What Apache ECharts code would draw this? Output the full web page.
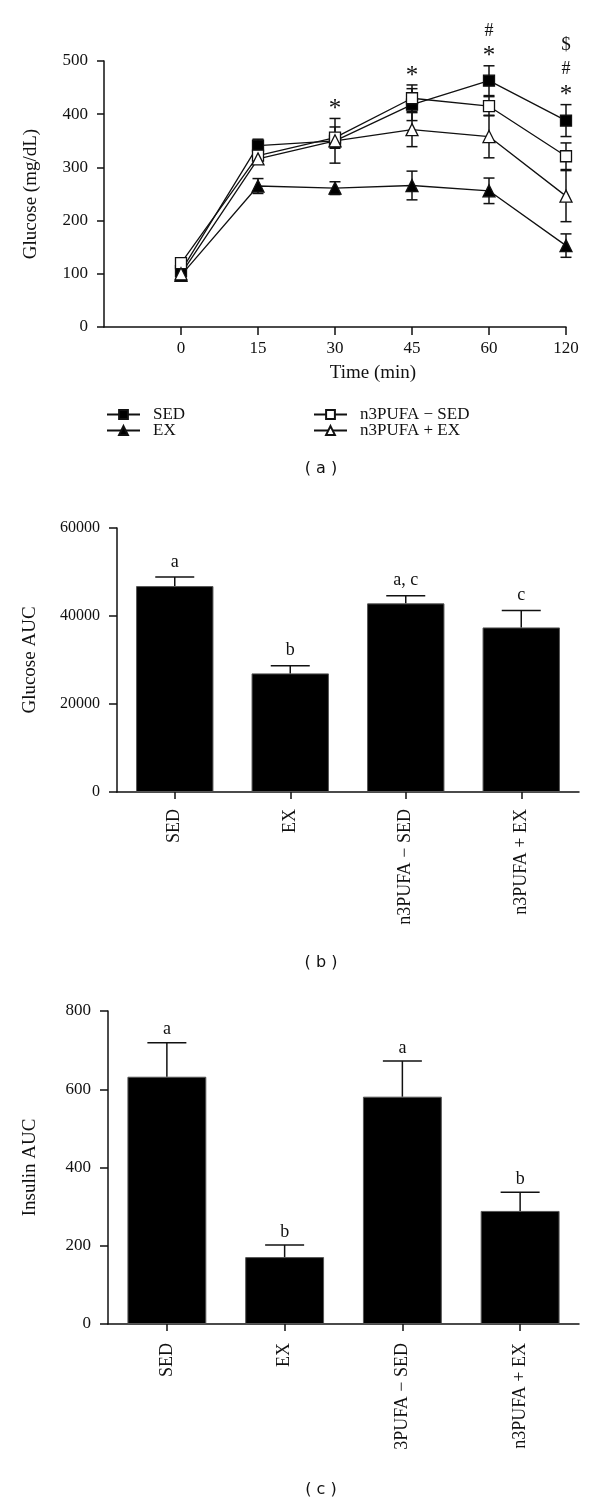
<!DOCTYPE html>
<html><head><meta charset="utf-8">
<script src="https://cdn.jsdelivr.net/npm/echarts@6/dist/echarts.min.js"></script>
<style>html,body{margin:0;padding:0;background:#fff}#c{width:600px;height:1506px}</style>
</head><body><div id="c"></div>
<script>
// ---------- Data ----------
const timeLabels = ['0', '15', '30', '45', '60', '120'];
const sedGlucose = [105, 341, 350, 418, 463, 388];
const sedGlucoseErr = [8, 12, 42, 30, 28, 30];
const exGlucose = [97, 265, 261, 266, 256, 153];
const exGlucoseErr = [6, 14, 12, 27, 24, 22];
const n3SedGlucose = [120, 322, 356, 430, 415, 321];
const n3SedGlucoseErr = [6, 10, 20, 25, 18, 25];
const n3ExGlucose = [100, 316, 350, 371, 358, 246];
const n3ExGlucoseErr = [6, 10, 12, 32, 40, 48];
const timeAnnotations = ['', '', '*', '*', '*#', '*#$']; // stacked bottom to top

const groupsB = ['SED', 'EX', 'n3PUFA \u2212 SED', 'n3PUFA + EX'];
const glucoseAUC = [46800, 26960, 42870, 37400];
const glucoseAUCErr = [2060, 1740, 1750, 3870];
const glucoseLetters = ['a', 'b', 'a, c', 'c'];

const groupsC = ['SED', 'EX', '3PUFA \u2212 SED', 'n3PUFA + EX'];
const insulinAUC = [632, 171, 581, 289];
const insulinAUCErr = [87, 31, 91, 48];
const insulinLetters = ['a', 'b', 'a', 'b'];

const lineNames = ['SED', 'EX', 'n3PUFA \u2212 SED', 'n3PUFA + EX'];

// ---------- Styles ----------
const serif = 'Liberation Serif';
const ink = '#111';
const axisLineStyle = { color: ink, width: 1.5 };

function lineErr(capHalf) {
  return function (params, api) {
    const x = api.value(0), y = api.value(1), e = api.value(2);
    const top = api.coord([x, y + e]), bot = api.coord([x, y - e]);
    const st = { stroke: ink, lineWidth: 1.5 };
    return { type: 'group', children: [
      { type: 'line', shape: { x1: top[0], y1: top[1], x2: bot[0], y2: bot[1] }, style: st },
      { type: 'line', shape: { x1: top[0] - capHalf, y1: top[1], x2: top[0] + capHalf, y2: top[1] }, style: st },
      { type: 'line', shape: { x1: bot[0] - capHalf, y1: bot[1], x2: bot[0] + capHalf, y2: bot[1] }, style: st }
    ]};
  };
}
function barErr(letters, capHalf, letterGap) {
  return function (params, api) {
    const i = api.value(0), v = api.value(1), e = api.value(2);
    const base = api.coord([i, v]), top = api.coord([i, v + e]);
    const st = { stroke: ink, lineWidth: 1.5 };
    return { type: 'group', children: [
      { type: 'line', shape: { x1: base[0], y1: base[1], x2: top[0], y2: top[1] }, style: st },
      { type: 'line', shape: { x1: top[0] - capHalf, y1: top[1], x2: top[0] + capHalf, y2: top[1] }, style: st },
      { type: 'text', x: top[0], y: top[1] - letterGap, style: { text: letters[params.dataIndex], align: 'center', verticalAlign: 'middle', fontFamily: serif, fontSize: 18, fill: ink } }
    ]};
  };
}

const seriesVals = [sedGlucose, exGlucose, n3SedGlucose, n3ExGlucose];
const seriesErrs = [sedGlucoseErr, exGlucoseErr, n3SedGlucoseErr, n3ExGlucoseErr];
const annotBase = timeLabels.map((t, i) => [i, Math.max(...seriesVals.map((s, k) => s[i] + seriesErrs[k][i]))]);
const annotOffsets = [9, 35, 60];
const annotSizes = { '*': 25, '#': 18, '$': 19 };

const markerDefs = [
  { symbol: 'rect', size: 11, fill: '#000' },
  { symbol: 'triangle', size: 12, fill: '#000' },
  { symbol: 'rect', size: 11, fill: '#fff' },
  { symbol: 'triangle', size: 12, fill: '#fff' }
];

const series = [];
lineNames.forEach((name, k) => {
  series.push({
    name: name, type: 'line', xAxisIndex: 0, yAxisIndex: 0,
    data: seriesVals[k].map((v, i) => [i, v]),
    symbol: markerDefs[k].symbol, symbolSize: markerDefs[k].size,
    lineStyle: { color: ink, width: 1.3 },
    itemStyle: { color: markerDefs[k].fill, borderColor: ink, borderWidth: 1.3 },
    z: 3
  });
  series.push({
    type: 'custom', xAxisIndex: 0, yAxisIndex: 0, renderItem: lineErr(5.5),
    data: seriesVals[k].map((v, i) => [i, v, seriesErrs[k][i]]), z: 2, silent: true
  });
});
series.push({
  type: 'custom', xAxisIndex: 0, yAxisIndex: 0, data: annotBase, z: 4, silent: true, clip: false,
  renderItem: function (params, api) {
    const p = api.coord([api.value(0), api.value(1)]);
    const syms = timeAnnotations[params.dataIndex].split('');
    return { type: 'group', children: syms.map((s, k) => ({
      type: 'text', x: p[0], y: p[1] - annotOffsets[k],
      style: { text: s, align: 'center', verticalAlign: 'middle', fontFamily: serif, fontSize: annotSizes[s], fill: ink }
    }))};
  }
});
series.push({
  type: 'bar', xAxisIndex: 1, yAxisIndex: 1, data: glucoseAUC, barWidth: '67%',
  itemStyle: { color: '#000', borderColor: '#555', borderWidth: 1 }
});
series.push({
  type: 'custom', xAxisIndex: 1, yAxisIndex: 1, z: 3, silent: true, clip: false,
  data: glucoseAUC.map((v, i) => [i, v, glucoseAUCErr[i]]), renderItem: barErr(glucoseLetters, 19.5, 15)
});
series.push({
  type: 'bar', xAxisIndex: 2, yAxisIndex: 2, data: insulinAUC, barWidth: '67%',
  itemStyle: { color: '#000', borderColor: '#555', borderWidth: 1 }
});
series.push({
  type: 'custom', xAxisIndex: 2, yAxisIndex: 2, z: 3, silent: true, clip: false,
  data: insulinAUC.map((v, i) => [i, v, insulinAUCErr[i]]), renderItem: barErr(insulinLetters, 19.5, 13)
});

const tickLbl = (size, margin) => ({ fontFamily: serif, fontSize: size, color: ink, margin: margin });
const nameStyle = { fontFamily: serif, fontSize: 19, color: ink };
const legendText = { fontFamily: serif, fontSize: 17, color: ink, lineHeight: 14, padding: [0, 0, 0, 8] };

const option = {
  animation: false,
  backgroundColor: '#fff',
  grid: [
    { left: 104, right: 34, top: 61, height: 266 },
    { left: 117, right: 21, top: 528, height: 264 },
    { left: 108, right: 21, top: 1011, height: 313 }
  ],
  legend: [
    { data: [lineNames[0], lineNames[1]], orient: 'vertical', left: 101, top: 401, itemWidth: 33, itemHeight: 11, itemGap: -1, textStyle: legendText, selectedMode: false },
    { data: [lineNames[2], lineNames[3]], orient: 'vertical', left: 308, top: 401, itemWidth: 33, itemHeight: 11, itemGap: -1, textStyle: legendText, selectedMode: false }
  ],
  xAxis: [
    { gridIndex: 0, type: 'value', min: -1, max: 5, interval: 1,
      axisLine: { show: true, onZero: false, lineStyle: axisLineStyle },
      axisTick: { show: true, length: 8, customValues: [0, 1, 2, 3, 4, 5], lineStyle: axisLineStyle },
      axisLabel: Object.assign(tickLbl(17, 13), { customValues: [0, 1, 2, 3, 4, 5], formatter: v => timeLabels[v] }),
      splitLine: { show: false } },
    { gridIndex: 1, type: 'category', data: groupsB,
      axisLine: { show: true, lineStyle: axisLineStyle },
      axisTick: { show: true, alignWithLabel: true, length: 7, lineStyle: axisLineStyle },
      axisLabel: Object.assign(tickLbl(18, 17), { rotate: 90, interval: 0 }) },
    { gridIndex: 2, type: 'category', data: groupsC,
      axisLine: { show: true, lineStyle: axisLineStyle },
      axisTick: { show: true, alignWithLabel: true, length: 7, lineStyle: axisLineStyle },
      axisLabel: Object.assign(tickLbl(18, 19), { rotate: 90, interval: 0 }) }
  ],
  yAxis: [
    { gridIndex: 0, type: 'value', min: 0, max: 500, interval: 100,
      name: 'Glucose (mg/dL)', nameLocation: 'middle', nameGap: 63, nameTextStyle: nameStyle,
      axisLine: { show: true, onZero: false, lineStyle: axisLineStyle },
      axisTick: { show: true, length: 7, lineStyle: axisLineStyle },
      axisLabel: tickLbl(17, 16), splitLine: { show: false } },
    { gridIndex: 1, type: 'value', min: 0, max: 60000, interval: 20000,
      name: 'Glucose AUC', nameLocation: 'middle', nameGap: 77, nameTextStyle: nameStyle,
      axisLine: { show: true, onZero: false, lineStyle: axisLineStyle },
      axisTick: { show: true, length: 8, lineStyle: axisLineStyle },
      axisLabel: Object.assign(tickLbl(16, 17), { formatter: v => String(v) }), splitLine: { show: false } },
    { gridIndex: 2, type: 'value', min: 0, max: 800, interval: 200,
      name: 'Insulin AUC', nameLocation: 'middle', nameGap: 68, nameTextStyle: nameStyle,
      axisLine: { show: true, onZero: false, lineStyle: axisLineStyle },
      axisTick: { show: true, length: 8, lineStyle: axisLineStyle },
      axisLabel: tickLbl(17, 17), splitLine: { show: false } }
  ],
  graphic: [
    { type: 'text', x: 373, y: 373, style: { text: 'Time (min)', align: 'center', verticalAlign: 'middle', fontFamily: serif, fontSize: 19, fill: ink } },
    { type: 'text', x: 321, y: 469, style: { text: '( a )', align: 'center', verticalAlign: 'middle', fontFamily: 'DejaVu Sans', fontSize: 16, fill: ink } },
    { type: 'text', x: 321, y: 963, style: { text: '( b )', align: 'center', verticalAlign: 'middle', fontFamily: 'DejaVu Sans', fontSize: 16, fill: ink } },
    { type: 'text', x: 321, y: 1490, style: { text: '( c )', align: 'center', verticalAlign: 'middle', fontFamily: 'DejaVu Sans', fontSize: 16, fill: ink } }
  ],
  series: series
};
const chart = echarts.init(document.getElementById('c'));
chart.setOption(option);
</script>
</body></html>
